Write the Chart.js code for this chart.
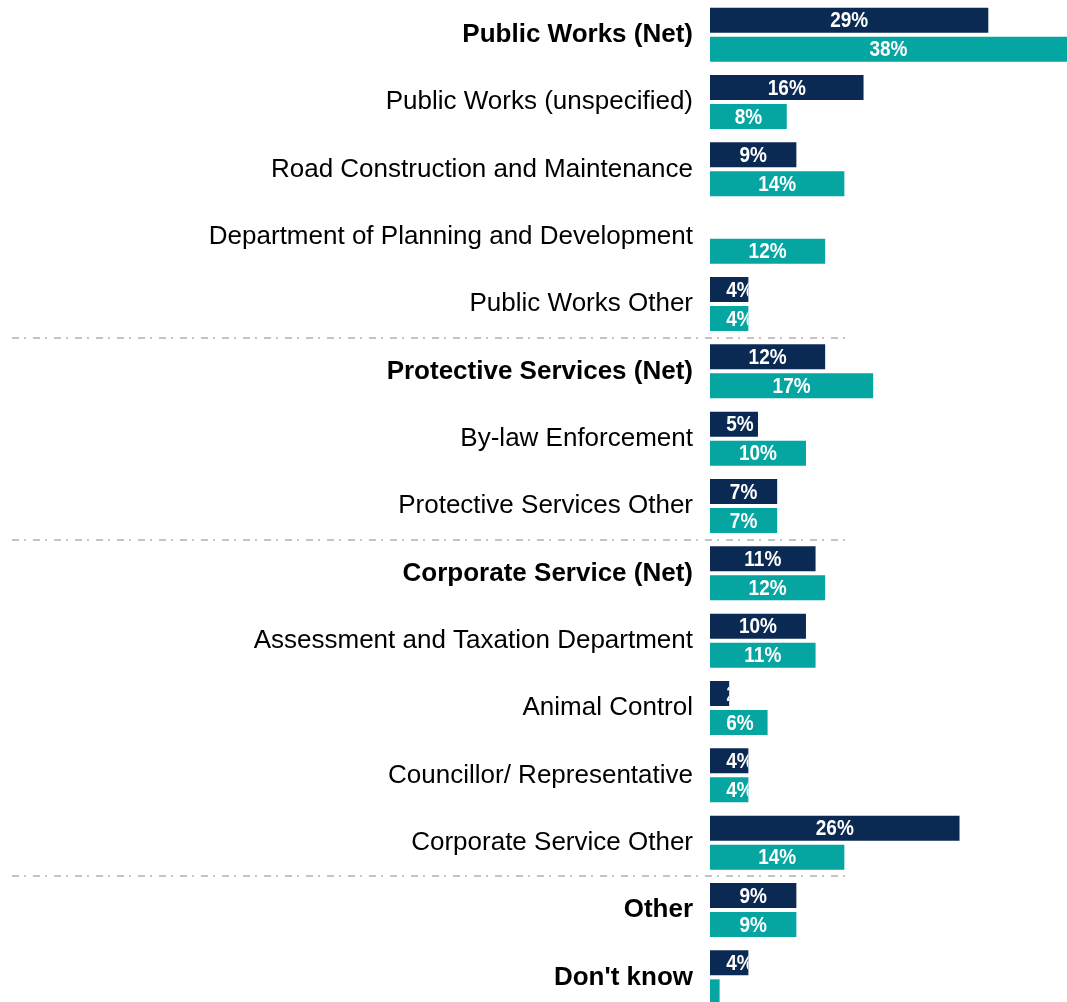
<!DOCTYPE html>
<html>
<head>
<meta charset="utf-8">
<script src="https://cdn.jsdelivr.net/npm/chart.js@4"></script>
<style>
    html, body { margin: 0; padding: 0; background: #fff; overflow: hidden; }
    #wrap { position: relative; width: 1067px; height: 1011px; }
</style>
</head>
<body>
<div id="wrap"><canvas id="chart"></canvas></div>
<script>
const categories = [
    "Public Works (Net)",
    "Public Works (unspecified)",
    "Road Construction and Maintenance",
    "Department of Planning and Development",
    "Public Works Other",
    "Protective Services (Net)",
    "By-law Enforcement",
    "Protective Services Other",
    "Corporate Service (Net)",
    "Assessment and Taxation Department",
    "Animal Control",
    "Councillor/ Representative",
    "Corporate Service Other",
    "Other",
    "Don't know"
];
const boldCategories = ["Public Works (Net)", "Protective Services (Net)", "Corporate Service (Net)", "Other", "Don't know"];

const seriesOne = [29, 16, 9, null, 4, 12, 5, 7, 11, 10, 2, 4, 26, 9, 4];
const seriesTwo = [38, 8, 14, 12, 4, 17, 10, 7, 12, 11, 6, 4, 14, 9, 1];

// separators are drawn below these category indices
const separatorsAfter = [4, 7, 12];

const navy = '#0b2a53';
const teal = '#05a5a2';

const fontFamily = '"Liberation Sans", Arial, sans-serif';

const barLabels = {
    id: 'barLabels',
    afterDatasetsDraw(chart) {
        const ctx = chart.ctx;
        chart.data.datasets.forEach((ds, di) => {
            const meta = chart.getDatasetMeta(di);
            meta.data.forEach((bar, i) => {
                const v = ds.data[i];
                if (v == null) return;
                const left = Math.min(bar.base, bar.x);
                const right = Math.min(Math.max(bar.base, bar.x), chart.chartArea.right);
                const h = bar.height;
                const cx = Math.max((left + right) / 2, left + 30);
                ctx.save();
                ctx.beginPath();
                ctx.rect(left, bar.y - h / 2, right - left, h);
                ctx.clip();
                ctx.translate(cx, bar.y + 1);
                ctx.scale(1, 1.2);
                ctx.fillStyle = '#ffffff';
                ctx.font = 'bold 19px ' + fontFamily;
                ctx.textAlign = 'center';
                ctx.textBaseline = 'middle';
                ctx.fillText(v + '%', 0, 0);
                ctx.restore();
            });
        });
    }
};

const separators = {
    id: 'separators',
    afterDraw(chart) {
        const ctx = chart.ctx;
        const y = chart.scales.y;
        ctx.save();
        ctx.strokeStyle = '#c4c4c4';
        ctx.lineWidth = 2;
        ctx.setLineDash([7, 5, 2, 7]);
        separatorsAfter.forEach((idx) => {
            const py = Math.round((y.getPixelForValue(idx) + y.getPixelForValue(idx + 1)) / 2);
            ctx.beginPath();
            ctx.moveTo(12, py);
            ctx.lineTo(846, py);
            ctx.stroke();
        });
        ctx.restore();
    }
};

new Chart(document.getElementById('chart'), {
    type: 'bar',
    data: {
        labels: categories,
        datasets: [{
            label: 'Series 1',
            data: seriesOne,
            backgroundColor: navy,
            categoryPercentage: 0.862,
            barPercentage: 0.862
        }, {
            label: 'Series 2',
            data: seriesTwo,
            backgroundColor: teal,
            categoryPercentage: 0.862,
            barPercentage: 0.862
        }]
    },
    options: {
        indexAxis: 'y',
        responsive: true,
        maintainAspectRatio: false,
        animation: false,
        layout: { padding: { top: 1, bottom: 0, left: 0, right: 0 } },
        plugins: {
            legend: { display: false },
            tooltip: { enabled: false }
        },
        scales: {
            x: {
                display: false,
                min: 0,
                max: 37.2
            },
            y: {
                afterFit(scale) {
                    scale.width = 710;
                    scale.paddingTop = 0;
                    scale.paddingBottom = 0;
                },
                grid: { display: false, drawTicks: false },
                border: { display: false },
                ticks: {
                    padding: 17,
                    color: '#000000',
                    font: (c) => ({
                        family: fontFamily,
                        size: 26,
                        weight: boldCategories.includes(categories[c.index]) ? 'bold' : 'normal'
                    })
                }
            }
        }
    },
    plugins: [barLabels, separators]
});
</script>
</body>
</html>
